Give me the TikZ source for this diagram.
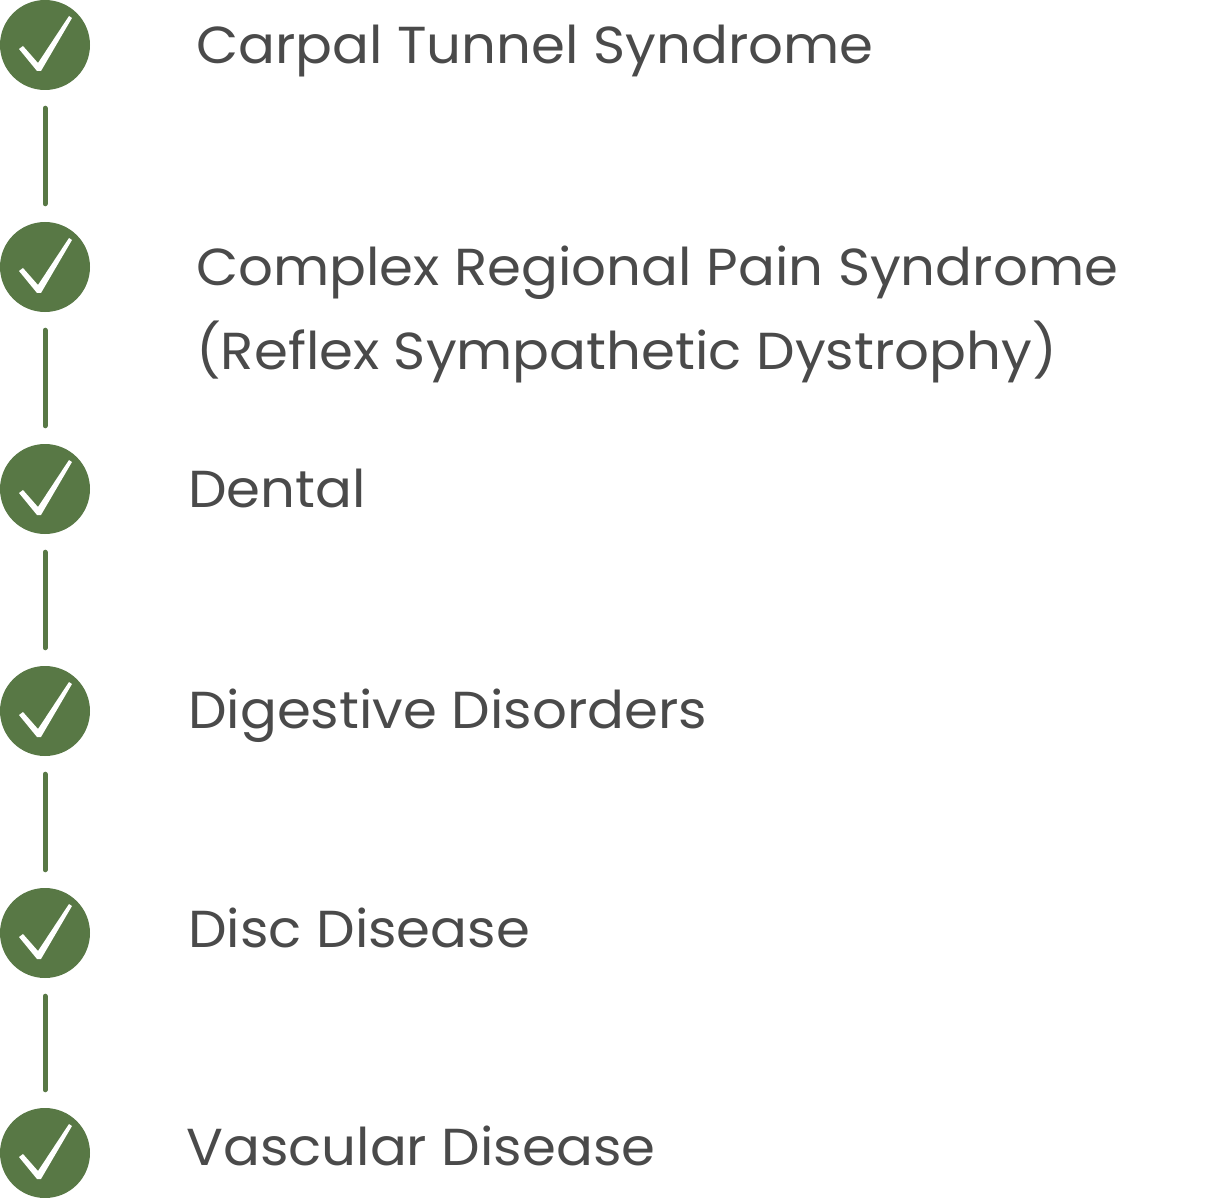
\documentclass[tikz,border=0pt]{standalone}
\usepackage{fontspec}
\setmainfont[FakeStretch=1.05]{Poppins}
\usetikzlibrary{calc}
\definecolor{gr}{HTML}{587845}
\definecolor{tx}{HTML}{4A4A4A}
\begin{document}
\begin{tikzpicture}[x=1pt,y=-1pt,
  dot/.style={circle,fill=gr,minimum size=90pt,inner sep=0pt},
  conn/.style={draw=gr,line width=5pt,line cap=round},
  lbl/.style={anchor=base west,text=tx,inner sep=0pt,font=\fontsize{52}{62}\selectfont}]
\useasboundingbox (0,0) rectangle (1215,1198);
\foreach \n/\y in {1/45,2/267,3/489,4/711,5/933,6/1153}{
  \node[dot] (c\n) at (45,\y) {};
  \fill[white] (19,\y+4) -- (23,\y+1) -- (38,\y+18) -- (69,\y-29) -- (72,\y-27) -- (41,\y+26) -- (37,\y+26) -- cycle;
}
\foreach \a/\b in {1/2,2/3,3/4,4/5,5/6}{
  \coordinate (s\a) at ($(c\a.south)+(0,18)$);
  \coordinate (e\a) at ($(c\b.north)+(0,-18)$);
}
\foreach \a in {1,...,5}{\draw[conn] (s\a) -- (e\a);}
\node[lbl] (t1) at (196,64) {Carpal Tunnel Syndrome};
\node[lbl] (t2) at (196,286) {Complex Regional Pain Syndrome};
\node[lbl] (t2b) at (196,369) {(Reflex Sympathetic Dystrophy)};
\node[lbl] (t3) at (188,507) {Dental};
\node[lbl] (t4) at (188,728) {Digestive Disorders};
\node[lbl] (t5) at (188,947) {Disc Disease};
\node[lbl] (t6) at (186,1165) {Vascular Disease};
\end{tikzpicture}
\end{document}
